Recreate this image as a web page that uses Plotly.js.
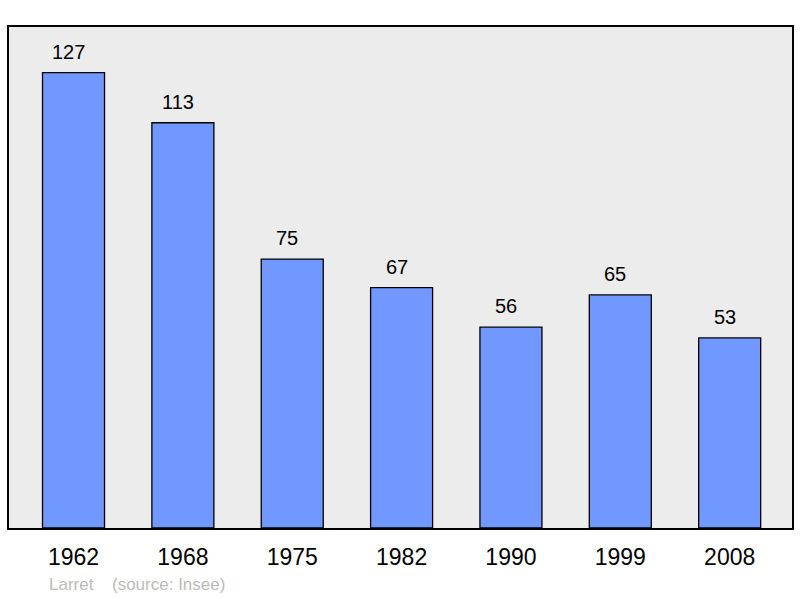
<!DOCTYPE html>
<html>
<head>
<meta charset="utf-8">
<script src="https://cdn.plot.ly/plotly-3.0.1.min.js"></script>
<style>
html,body{margin:0;padding:0;background:#ffffff;}
#chart{width:800px;height:598px;}
</style>
</head>
<body>
<div id="chart"></div>
<script>
const years = ["1962", "1968", "1975", "1982", "1990", "1999", "2008"];
const population = [127, 113, 75, 67, 56, 65, 53];
const commune = "Larret";
const sourceText = "(source: Insee)";

const trace = {
  type: "bar",
  x: years,
  y: population,
  width: 0.567,
  marker: {color: "#7098ff", line: {color: "#000000", width: 1.3}},
  hoverinfo: "none"
};

const annotations = years.map((yr, i) => ({
  x: i, y: population[i], xref: "x", yref: "y",
  text: String(population[i]), showarrow: false,
  yanchor: "bottom", xanchor: "center", xshift: -5, yshift: 8,
  font: {family: "Liberation Sans, Arial, sans-serif", size: 20, color: "#000000"}
}));
annotations.push({
  xref: "paper", yref: "paper", x: 0, y: 0, xanchor: "left", yanchor: "top",
  xshift: 38, yshift: -45, text: commune, showarrow: false,
  font: {family: "Liberation Sans, Arial, sans-serif", size: 17, color: "#bbbbbb"}
});
annotations.push({
  xref: "paper", yref: "paper", x: 0, y: 0, xanchor: "left", yanchor: "top",
  xshift: 101, yshift: -45, text: sourceText, showarrow: false,
  font: {family: "Liberation Sans, Arial, sans-serif", size: 17, color: "#bbbbbb"}
});

const layout = {
  width: 800, height: 598,
  margin: {l: 9, r: 8, t: 27, b: 70, pad: 0},
  paper_bgcolor: "#ffffff",
  plot_bgcolor: "#ececec",
  showlegend: false,
  bargap: 0,
  xaxis: {
    type: "category", range: [-0.59, 6.57],
    showline: true, mirror: true, linecolor: "#000000", linewidth: 2,
    showgrid: false, zeroline: false, ticks: "", ticklabelstandoff: 7,
    tickfont: {family: "Liberation Sans, Arial, sans-serif", size: 23, color: "#000000"}
  },
  yaxis: {
    range: [0, 139.7],
    showline: true, mirror: true, linecolor: "#000000", linewidth: 2,
    showgrid: false, zeroline: false, showticklabels: false, ticks: ""
  },
  annotations: annotations
};

Plotly.newPlot("chart", [trace], layout, {displayModeBar: false, staticPlot: true});
</script>
</body>
</html>
